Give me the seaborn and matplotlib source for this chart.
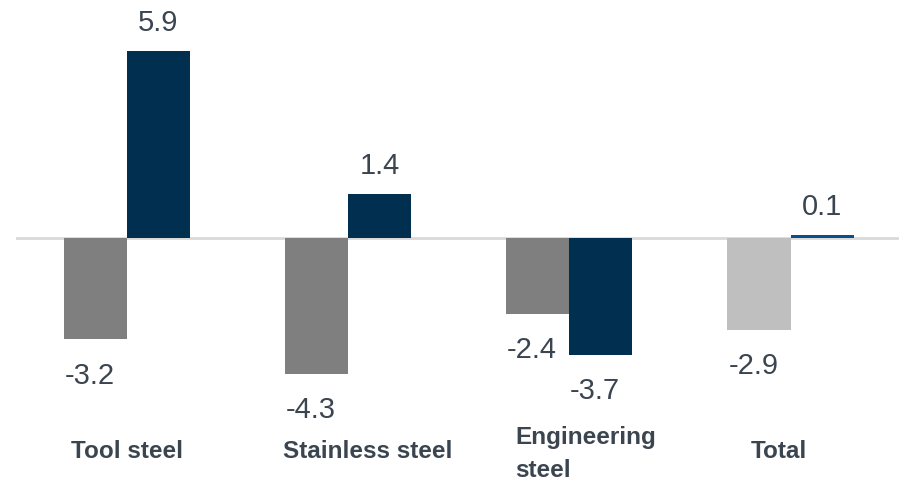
import numpy as np
import pandas as pd
import matplotlib
matplotlib.use('Agg')
import matplotlib.pyplot as plt
import seaborn as sns

# Chart values
categories = ['Tool steel', 'Stainless steel', 'Engineering\nsteel', 'Total']
prior = [-3.2, -4.3, -2.4, -2.9]
current = [5.9, 1.4, -3.7, 0.1]

df = pd.DataFrame({'category': categories * 2,
                   'period': ['prior'] * 4 + ['current'] * 4,
                   'value': prior + current})

sns.set_style('white')
plt.rcParams['font.family'] = ['Liberation Sans', 'DejaVu Sans']
text_col = '#3b4550'

fig = plt.figure(figsize=(8.99, 4.82), dpi=100)
ax = fig.add_axes([16 / 899, 0, 1 - 16 / 899, 1])

sns.barplot(data=df, x='category', y='value', hue='period',
            palette=['#7f7f7f', '#002f4f'], width=0.57, gap=0,
            legend=False, ax=ax, saturation=1, linewidth=0)

# Total bars use lighter shades
for cont, col in zip(ax.containers, ['#bfbfbf', '#0b4f8a']):
    cont.patches[-1].set_facecolor(col)

ax.axhline(0, color='#d9d9d9', lw=2, zorder=0)
ax.set_xlim(-0.5, 3.49)
ax.set_ylim(-7.70, 7.51)
ax.axis('off')

# Value labels
for cont in ax.containers:
    for p in cont.patches:
        v = p.get_height()
        xc = p.get_x() + p.get_width() / 2
        if v >= 0:
            ax.annotate(f'{v:.1f}', (xc, v), xytext=(0, 20), textcoords='offset points',
                        ha='center', va='center', fontsize=21, color=text_col)
        else:
            ax.annotate(f'{v:.1f}', (xc, v), xytext=(-4, -26), textcoords='offset points',
                        ha='center', va='center', fontsize=21, color=text_col)

# Category labels (placed like the original text boxes)
label_pos = [(0.0, -6.95, 'center', 'baseline'), (0.09, -6.95, 'center', 'baseline'),
             (-0.244, -5.92, 'left', 'top'), (-0.054, -6.95, 'center', 'baseline')]
for i, (lab, (dx, y, ha, va)) in enumerate(zip(categories, label_pos)):
    ax.text(i + dx, y, lab, ha=ha, va=va, fontsize=17.5, fontweight='bold',
            color=text_col, linespacing=1.6)

fig.savefig('out.png', dpi=100)
